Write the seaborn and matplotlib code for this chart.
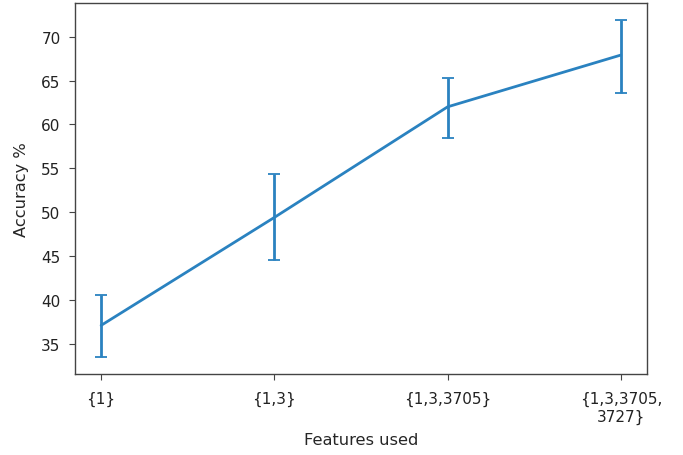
import matplotlib
matplotlib.use('Agg')
import matplotlib.pyplot as plt
import pandas as pd
import seaborn as sns

# data
features = ['{1}', '{1,3}', '{1,3,3705}', '{1,3,3705,\n3727}']
accuracy = [37.1, 49.4, 62.0, 67.9]
err_low = [3.6, 4.9, 3.5, 4.3]
err_high = [3.5, 4.9, 3.3, 4.0]

df = pd.DataFrame({'features': features, 'accuracy': accuracy})

sns.set_style('ticks')
plt.rcParams['font.family'] = ['DejaVu Sans']
plt.rcParams['font.size'] = 11.7

fig, ax = plt.subplots(figsize=(6.83, 4.56), dpi=100)
fig.subplots_adjust(left=0.11, right=0.947, bottom=0.178, top=0.991)

sns.lineplot(data=df, x='features', y='accuracy', ax=ax, color='#2a82c0', linewidth=2, sort=False)
ax.errorbar(df['features'], df['accuracy'], yerr=[err_low, err_high],
            fmt='none', ecolor='#2a82c0', elinewidth=2, capsize=4, capthick=1.3)

ax.set_xlabel('Features used', labelpad=6)
ax.set_ylabel('Accuracy %', labelpad=9)
ax.set_yticks([35, 40, 45, 50, 55, 60, 65, 70])
ax.margins(x=0.05)
for s in ax.spines.values():
    s.set_visible(True)
    s.set_color('#444444')
    s.set_linewidth(1)
ax.tick_params(colors='#444444', labelcolor='#222222', labelsize=11, length=4.5)
ax.tick_params(axis='x', pad=8)
ax.tick_params(axis='y', pad=6)

fig.savefig('out.png')
